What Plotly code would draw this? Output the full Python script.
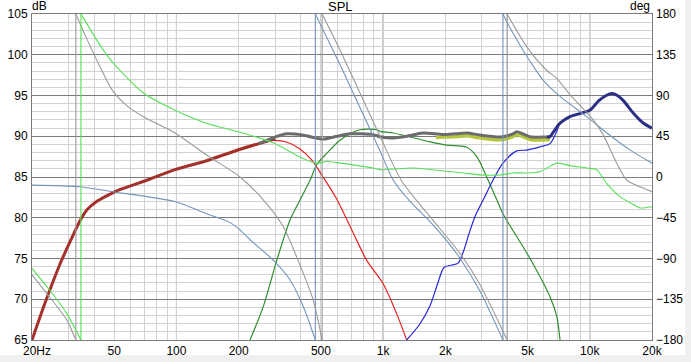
import math
import plotly.graph_objects as go

# ---------------- SPL curves (dB) ----------------
low_sum_f = [20, 22.7, 27.3, 31, 34.1, 37, 41.1, 51.4, 71.8, 98.4, 140, 203, 250, 284, 300]
low_sum_db = [65, 69.0, 74.3, 77.4, 79.6, 81.0, 82.0, 83.3, 84.6, 85.9, 87.0, 88.4, 89.1, 89.5, 89.7]

total_f = [250, 300, 341, 400, 450, 512, 600, 692, 893, 966, 1120, 1300, 1560, 1950, 2250,
           2550, 2940, 3680, 3900, 4250, 4430, 5140, 6000, 6420]
total_db = [89.1, 89.9, 90.3, 90.2, 89.9, 89.65, 90.0, 90.3, 90.2, 89.95, 89.8, 90.0, 90.4, 90.2, 90.3,
            90.4, 90.15, 89.9, 90.0, 90.3, 90.55, 89.95, 89.9, 89.95]

midhigh_f = [1800, 2250, 2550, 2940, 3680, 4250, 4430, 5140, 6000, 6420]
midhigh_db = [89.85, 89.95, 90.05, 89.8, 89.55, 89.95, 90.2, 89.6, 89.55, 89.6]

high_sum_f = [6200, 6420, 6700, 7180, 8020, 9000, 10000, 11100, 12000, 12800, 13600, 14500, 16300, 18200, 20000]
high_sum_db = [89.9, 89.95, 90.6, 91.6, 92.4, 92.8, 93.2, 94.4, 95.0, 95.25, 95.0, 94.4, 92.8, 91.6, 91.0]

woofer_f = [20, 22.7, 27.3, 31, 34.1, 37, 41.1, 51.4, 71.8, 98.4, 140, 203, 250, 284, 300, 341, 393,
            451, 512, 596, 718, 832, 1000, 1160, 1300]
woofer_db = [65, 69.0, 74.3, 77.4, 79.6, 81.0, 82.0, 83.3, 84.6, 85.9, 87.0, 88.3, 89.0, 89.45, 89.5, 89.3, 88.5,
             87.1, 85.0, 82.3, 78.1, 74.8, 71.9, 68.3, 65]

mid_f = [227, 263, 306, 354, 382, 443, 477, 534, 618, 692, 773, 930, 966, 1120, 1690, 2030,
         2540, 2840, 3170, 3550, 3800, 5140, 6420, 6920, 7180]
mid_db = [65, 69.1, 74.8, 79.7, 81.4, 84.6, 86.5, 87.9, 89.5, 90.3, 90.8, 90.8, 90.6, 90.4, 89.3, 88.9,
          88.65, 87.5, 85.0, 82.2, 80.5, 75.0, 70.3, 67.9, 65]

tweeter_f = [1300, 1500, 1680, 1830, 1970, 2150, 2300, 2450, 2600, 2800, 3050, 3400, 3800, 4430,
             4950, 5740, 6420, 6920, 7180, 7600]
tweeter_db = [65, 66.9, 69.1, 71.8, 73.9, 74.2, 74.4, 75.9, 78.0, 80.3, 82.2, 84.6, 86.7, 88.2,
              88.3, 88.7, 89.1, 90.6, 91.6, 92.0]

# ---------------- Phase curves (deg) ----------------
phase_a_f = [20, 24.4, 29.4, 34.5, 34.5, 37.1, 41.1, 49.4, 69.2, 98.4, 140, 203, 294, 393, 459, 490,
             534, 618, 893, 966, 1400, 2030, 2450, 2940, 3680, 4250, 5000, 5740, 6300, 6920, 8000,
             9660, 10800, 12100, 14000, 16300, 17500, 20000]
phase_a_deg = [-100.8, -125.1, -150.3, -180, 180, 168.3, 151.2, 126, 92.7, 73.8, 59.4, 49.5, 37.8, 22.5,
               16.2, 15.3, 17.1, 15.3, 9.9, 8.1, 9.9, 6.3, 4.5, 2.3, 2.3, 4.5, 4.5, 5.9, 10.8, 15.3,
               12.6, 9.9, 8.1, -7.2, -21.6, -30.6, -34.2, -32.9]

phase_b_f = [20, 23.6, 29.4, 32.6, 32.6, 36, 42.7, 49.4, 58.5, 69.2, 98.4, 140, 203, 263, 329, 393,
             459, 507, 507, 618, 773, 966, 1230, 1690, 2360, 2940, 3980, 3980, 4950, 6180, 6920,
             8020, 10400, 11600, 13500, 15100, 17500, 20000]
phase_b_deg = [-108, -128.7, -157.5, -180, 180, 157.5, 121.5, 94.5, 77.4, 66.6, 48.6, 24.3, 0, -25.2,
               -54.9, -95.4, -135.9, -180, 180, 140.4, 92.7, 45, -4.5, -44.1, -84.6, -118.8, -180,
               180, 144, 117.9, 108.9, 90.9, 63, 46.8, 15.3, -3.6, -10.8, -16.2]

phase_c_f = [20, 34, 49, 98, 140, 182, 203, 227, 294, 354, 411, 470, 470, 618, 773, 966, 1120,
             1350, 1690, 2030, 2360, 2940, 3800, 3800, 4110, 4590, 5140, 5940, 7180, 9660, 12100,
             15700, 20000]
phase_c_deg = [-9, -10.8, -16.2, -27, -40.5, -50.4, -58.5, -69.3, -91.8, -113.4, -143.1, -180, 180,
               124.2, 76.5, 28.8, -3.6, -27, -49.5, -70.2, -90, -126, -180, 180, 164.7, 145.8,
               127.8, 107.1, 89.1, 66.6, 48.6, 29.7, 15.3]

x_tick_vals = [20, 50, 100, 200, 500, 1000, 2000, 5000, 10000, 20000]
x_tick_text = ["\u00a0\u00a0\u00a020Hz", "50", "100", "200", "500", "1k", "2k", "5k", "10k", "20k"]
deg_ticks = [-180, -135, -90, -45, 0, 45, 90, 135, 180]

fig = go.Figure()


def split_wraps(f, d):
    """Split a wrapped phase series into continuous pieces plus the wrap jumps."""
    pieces, cur = [], [[f[0]], [d[0]]]
    jumps = []
    for i in range(1, len(f)):
        if f[i] == f[i - 1]:
            pieces.append(cur)
            jumps.append(([f[i - 1], f[i]], [d[i - 1], d[i]]))
            cur = [[f[i]], [d[i]]]
        else:
            cur[0].append(f[i])
            cur[1].append(d[i])
    pieces.append(cur)
    return pieces, jumps


def phase(f, d, color):
    pieces, jumps = split_wraps(f, d)
    for pf, pd in pieces:
        fig.add_trace(go.Scatter(x=pf, y=pd, yaxis="y2", mode="lines",
                                 line=dict(color=color, width=1.1, shape="spline", smoothing=0.7),
                                 hoverinfo="skip", showlegend=False))
    for jf, jd in jumps:
        fig.add_trace(go.Scatter(x=jf, y=jd, yaxis="y2", mode="lines",
                                 line=dict(color=color, width=1.1),
                                 hoverinfo="skip", showlegend=False))


def spl(f, d, color, w, smooth=0.8):
    fig.add_trace(go.Scatter(x=f, y=d, mode="lines",
                             line=dict(color=color, width=w, shape="spline", smoothing=smooth),
                             hoverinfo="skip", showlegend=False))


phase(phase_c_f, phase_c_deg, "#7395BC")
phase(phase_b_f, phase_b_deg, "#9A9A9A")
phase(phase_a_f, phase_a_deg, "#58E058")

spl(woofer_f, woofer_db, "#E52222", 1.2)
spl(mid_f, mid_db, "#2F8F2F", 1.2)
spl(tweeter_f, tweeter_db, "#2626DA", 1.2)
spl(low_sum_f, low_sum_db, "#A3302A", 3, 0.5)
spl(midhigh_f, midhigh_db, "#B6C63C", 3.4)
spl(total_f, total_db, "#6C6C6C", 3)
spl(high_sum_f, high_sum_db, "#2C2F86", 3)

minor_x = [m * 10 ** k for k in (1, 2, 3) for m in range(2, 10)] + [20000]
minor_x = [v for v in minor_x if v not in x_tick_vals]

font = dict(family="Liberation Sans, Arial, sans-serif", size=12, color="#000000")
grid_light = "#D2D2D2"
grid_dark = "#7A7A7A"

fig.update_layout(
    width=691, height=362,
    margin=dict(l=32, r=39, t=14, b=22, autoexpand=False),
    paper_bgcolor="white", plot_bgcolor="white",
    font=font,
    xaxis=dict(type="log", range=[math.log10(20), math.log10(20000)], automargin=False,
               tickvals=x_tick_vals, ticktext=x_tick_text, ticks="",
               showgrid=True, gridcolor=grid_light, gridwidth=1,
               minor=dict(tickvals=minor_x, showgrid=True, gridcolor=grid_light, gridwidth=1),
               showline=True, linecolor=grid_dark, linewidth=1, mirror=True,
               zeroline=False, tickfont=font, ticklabelstandoff=0),
    yaxis=dict(range=[65, 105], tick0=65, dtick=5, ticks="", automargin=False,
               showgrid=True, gridcolor=grid_dark, gridwidth=1,
               minor=dict(dtick=1, showgrid=True, gridcolor=grid_light, gridwidth=1),
               showline=True, linecolor=grid_dark, linewidth=1, mirror=True,
               zeroline=False, tickfont=font, ticklabelstandoff=1),
    yaxis2=dict(range=[-180, 180], overlaying="y", side="right", tickvals=deg_ticks,
                ticks="", showgrid=False, zeroline=False, showline=False, automargin=False,
                tickfont=font, ticklabelstandoff=3),
)

shapes = []
for dec in (100, 1000, 10000):
    shapes.append(dict(type="line", xref="x", yref="paper", x0=dec, x1=dec, y0=0, y1=1,
                       line=dict(color=grid_dark, width=1), layer="between"))
# window chrome bands
shapes.append(dict(type="rect", xref="paper", yref="paper", x0=1.0532, x1=1.08, y0=-0.08, y1=1.06,
                   fillcolor="#F0F0F0", line=dict(width=0), layer="below"))
shapes.append(dict(type="rect", xref="paper", yref="paper", x0=-0.06, x1=1.08, y0=-0.08, y1=-0.046,
                   fillcolor="#F0F0F0", line=dict(width=0), layer="below"))
fig.update_layout(shapes=shapes)

fig.add_annotation(text="SPL", xref="paper", yref="paper", x=0.497, y=1.023,
                   xanchor="center", yanchor="middle", showarrow=False, font=dict(font, size=13))
fig.add_annotation(text="dB", xref="paper", yref="paper", x=0.0113, y=1.0245,
                   xanchor="center", yanchor="middle", showarrow=False, font=font)
fig.add_annotation(text="deg", xref="paper", yref="paper", x=0.981, y=1.0245,
                   xanchor="center", yanchor="middle", showarrow=False, font=font)

fig.write_html("out.html", config={"displayModeBar": False},
               post_script="document.body.style.margin='0';document.body.style.overflow='hidden';")
